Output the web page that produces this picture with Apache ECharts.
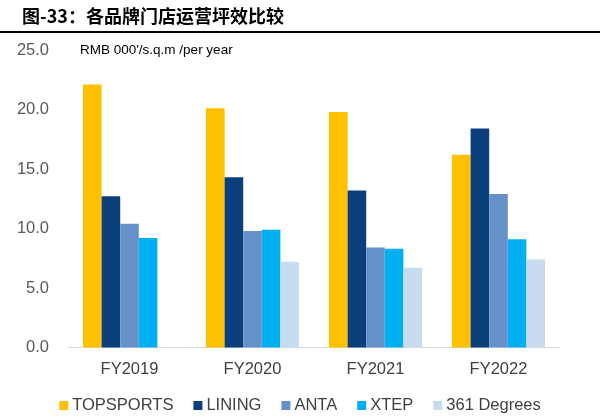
<!DOCTYPE html>
<html>
<head>
<meta charset="utf-8">
<script src="https://cdn.jsdelivr.net/npm/echarts@6/dist/echarts.min.js"></script>
<style>
html,body{margin:0;padding:0;background:#fff;}
#chart{width:600px;height:417px;}
</style>
</head>
<body>
<div id="chart"></div>
<script>
const categories = ['FY2019', 'FY2020', 'FY2021', 'FY2022'];
const topsports = [22.1, 20.1, 19.8, 16.2];
const lining = [12.7, 14.3, 13.2, 18.4];
const anta = [10.4, 9.8, 8.4, 12.9];
const xtep = [9.2, 9.9, 8.3, 9.1];
const deg361 = [null, 7.2, 6.7, 7.4];
const seriesNames = ['TOPSPORTS', 'LINING', 'ANTA', 'XTEP', '361 Degrees'];
const yTicks = [0, 5, 10, 15, 20, 25];
const titleText = '图-33：各品牌门店运营坪效比较';
const unitText = "RMB 000'/s.q.m /per year";

const colors = ['#FFC000', '#0B3F7C', '#6591C8', '#00B0F0', '#C7DCEE'];
const seriesData = [topsports, lining, anta, xtep, deg361];
const font = '"Liberation Sans", Arial, sans-serif';

const chart = echarts.init(document.getElementById('chart'), null, {renderer: 'canvas'});
chart.setOption({
  animation: false,
  backgroundColor: '#fff',
  grid: {left: 68, right: 40, top: 50, bottom: 69.5, containLabel: false},
  legend: {
    data: seriesNames,
    top: 397,
    left: 'center',
    padding: 0,
    icon: 'rect',
    itemWidth: 9,
    itemHeight: 9,
    itemGap: 20,
    textStyle: {fontFamily: font, fontSize: 16.5, color: '#404040', padding: [0, 0, 0, -1]}
  },
  xAxis: {
    type: 'category',
    data: categories,
    axisLine: {show: true, lineStyle: {color: '#D9D9D9', width: 1}},
    axisTick: {show: false},
    axisLabel: {fontFamily: font, fontSize: 16.5, color: '#404040', margin: 13}
  },
  yAxis: {
    type: 'value',
    min: yTicks[0],
    max: yTicks[yTicks.length - 1],
    interval: yTicks[1] - yTicks[0],
    splitLine: {show: false},
    axisLine: {show: false},
    axisTick: {show: false},
    axisLabel: {fontFamily: font, fontSize: 16.5, color: '#595959', margin: 19,
      formatter: v => v.toFixed(1)}
  },
  graphic: [
    {type: 'text', left: 22, top: 7,
      style: {text: titleText, font: 'bold 18px "Noto Sans CJK SC", sans-serif', fill: '#000'}},
    {type: 'rect', shape: {x: 0, y: 31, width: 600, height: 2}, style: {fill: '#000'}},
    {type: 'text', left: 80, top: 43,
      style: {text: unitText, font: '13.5px "Liberation Sans", Arial, sans-serif', fill: '#000'}}
  ],
  series: seriesNames.map((name, i) => ({
    name: name,
    type: 'bar',
    data: seriesData[i],
    barGap: '0%',
    barCategoryGap: '24.4%',
    itemStyle: {color: colors[i]}
  }))
});
</script>
</body>
</html>
